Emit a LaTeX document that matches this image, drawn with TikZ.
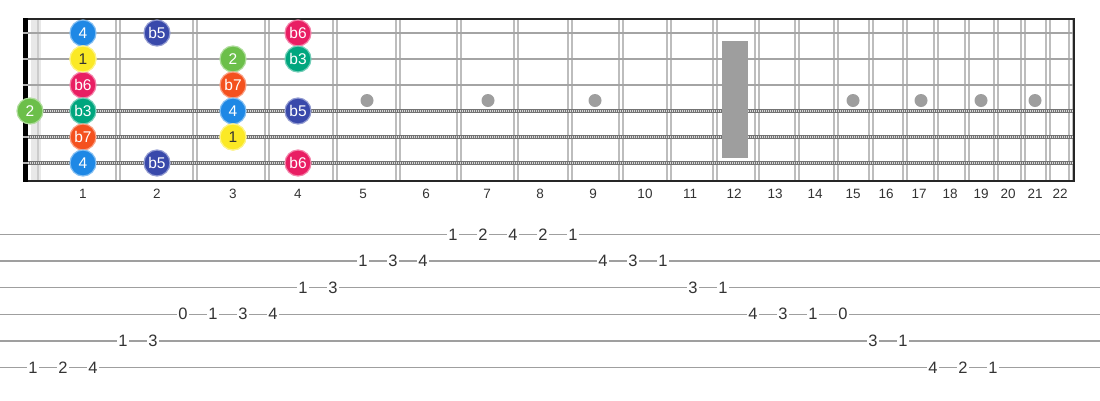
\documentclass[tikz,border=0pt]{standalone}
\usepackage{fontspec}
\setmainfont{Liberation Sans}
\definecolor{fretgray}{HTML}{BDBDBD}
\definecolor{stringgray}{HTML}{A4A4A4}
\definecolor{inlaygray}{HTML}{9E9E9E}
\definecolor{deg4}{HTML}{1E88E5}
\definecolor{degb5}{HTML}{3949AB}
\definecolor{degb6}{HTML}{E91E63}
\definecolor{deg1}{HTML}{FBE925}
\definecolor{deg2}{HTML}{6CBF4A}
\definecolor{degb3}{HTML}{00A67E}
\definecolor{degb7}{HTML}{F4511E}
\tikzset{
  note/.style={circle,minimum size=26pt,inner sep=0pt,fill=#1,draw=#1!55!white,line width=1.2pt,text=white,font=\fontsize{15.5}{15.5}\selectfont},
  fretnum/.style={font=\fontsize{13.5}{13.5}\selectfont,text=black!80},
  tabnum/.style={fill=white,inner sep=1.2pt,font=\fontsize{16.5}{16.5}\selectfont,text=black!80},
  plainstring/.style={stringgray,line width=2.8pt},
  woundstring/.style={black!55,line width=4pt},
}
\begin{document}
\begin{tikzpicture}[x=1pt,y=-1pt]
        \useasboundingbox (0,0) rectangle (1100,400);
        \fill[gray!18] (31,19) rectangle (41,181);
        \draw[gray!40,line width=2pt] (38,19)--(38,181);
        \foreach \x in {118,195,267,335,398,459,516,570,621,669,715,757,797,836,871,905,936,967,996,1023,1048,1071}{
            \draw[fretgray,line width=1.2pt] (\x-2,19)--(\x-2,181);
            \draw[fretgray,line width=1.2pt] (\x+2,19)--(\x+2,181);
        }
        \foreach \x in {367,488,595,853,921,981,1035}
            \fill[inlaygray] (\x,100.5) circle (6.5);
        \foreach \y in {33,59,85}
            \draw[plainstring] (24,\y)--(1074,\y);
        \foreach \y in {111,137,163}{
            \draw[woundstring] (24,\y)--(1074,\y);
            \draw[gray!30,line width=2.6pt,dash pattern=on 1pt off 1pt] (24,\y)--(1074,\y);
        }
        \fill[inlaygray] (722,41) rectangle (748,158);
        \draw[black!85,line width=2pt] (24,19)--(1074,19);
        \draw[black!85,line width=2pt] (24,181)--(1074,181);
        \draw[black!85,line width=2pt] (1074,18)--(1074,182);
        \fill[black] (23,18) rectangle (28,182);
        \foreach \y in {33,59,85,111,137,163}
            \draw[gray!60,line width=2pt] (23,\y)--(28,\y);

        \foreach \n/\x in {1/83,2/157,3/233,4/298,5/363,6/426,7/487,8/540,9/593,10/645,11/690,12/734,13/775,14/815,15/853,16/886,17/919,18/950,19/981,20/1008,21/1035,22/1060}
            \node[fretnum] (fl\n) at (\x,194) {\n};

        \foreach \s/\f/\d/\c in {1/1/4/deg4,1/2/b5/degb5,1/4/b6/degb6,
                                 2/1/1/deg1,2/3/2/deg2,2/4/b3/degb3,
                                 3/1/b6/degb6,3/3/b7/degb7,
                                 4/0/2/deg2,4/1/b3/degb3,4/3/4/deg4,4/4/b5/degb5,
                                 5/1/b7/degb7,5/3/1/deg1,
                                 6/1/4/deg4,6/2/b5/degb5,6/4/b6/degb6}{
            \pgfmathsetmacro{\px}{{30,83,157,233,298}[\f]}
            \pgfmathsetmacro{\py}{7+26*\s}
            \node[note=\c] (n\s-\f) at (\px,\py) {\d};
        }
        \node[note=deg1,text=black!80] at (n2-1) {1};
        \node[note=deg1,text=black!80] at (n5-3) {1};

        \foreach \l in {1,...,6}
            \draw[gray!75,line width=1.6pt] (0,207.7+26.65*\l)--(1100,207.7+26.65*\l);
        \foreach \k/\l/\v in {0/6/1,1/6/2,2/6/4,3/5/1,4/5/3,5/4/0,6/4/1,7/4/3,8/4/4,9/3/1,10/3/3,
                              11/2/1,12/2/3,13/2/4,14/1/1,15/1/2,16/1/4,17/1/2,18/1/1,19/2/4,20/2/3,21/2/1,
                              22/3/3,23/3/1,24/4/4,25/4/3,26/4/1,27/4/0,28/5/3,29/5/1,30/6/4,31/6/2,32/6/1}
            \node[tabnum] (t\k) at (33+30*\k,207.7+26.65*\l) {\v};
\end{tikzpicture}
\end{document}
